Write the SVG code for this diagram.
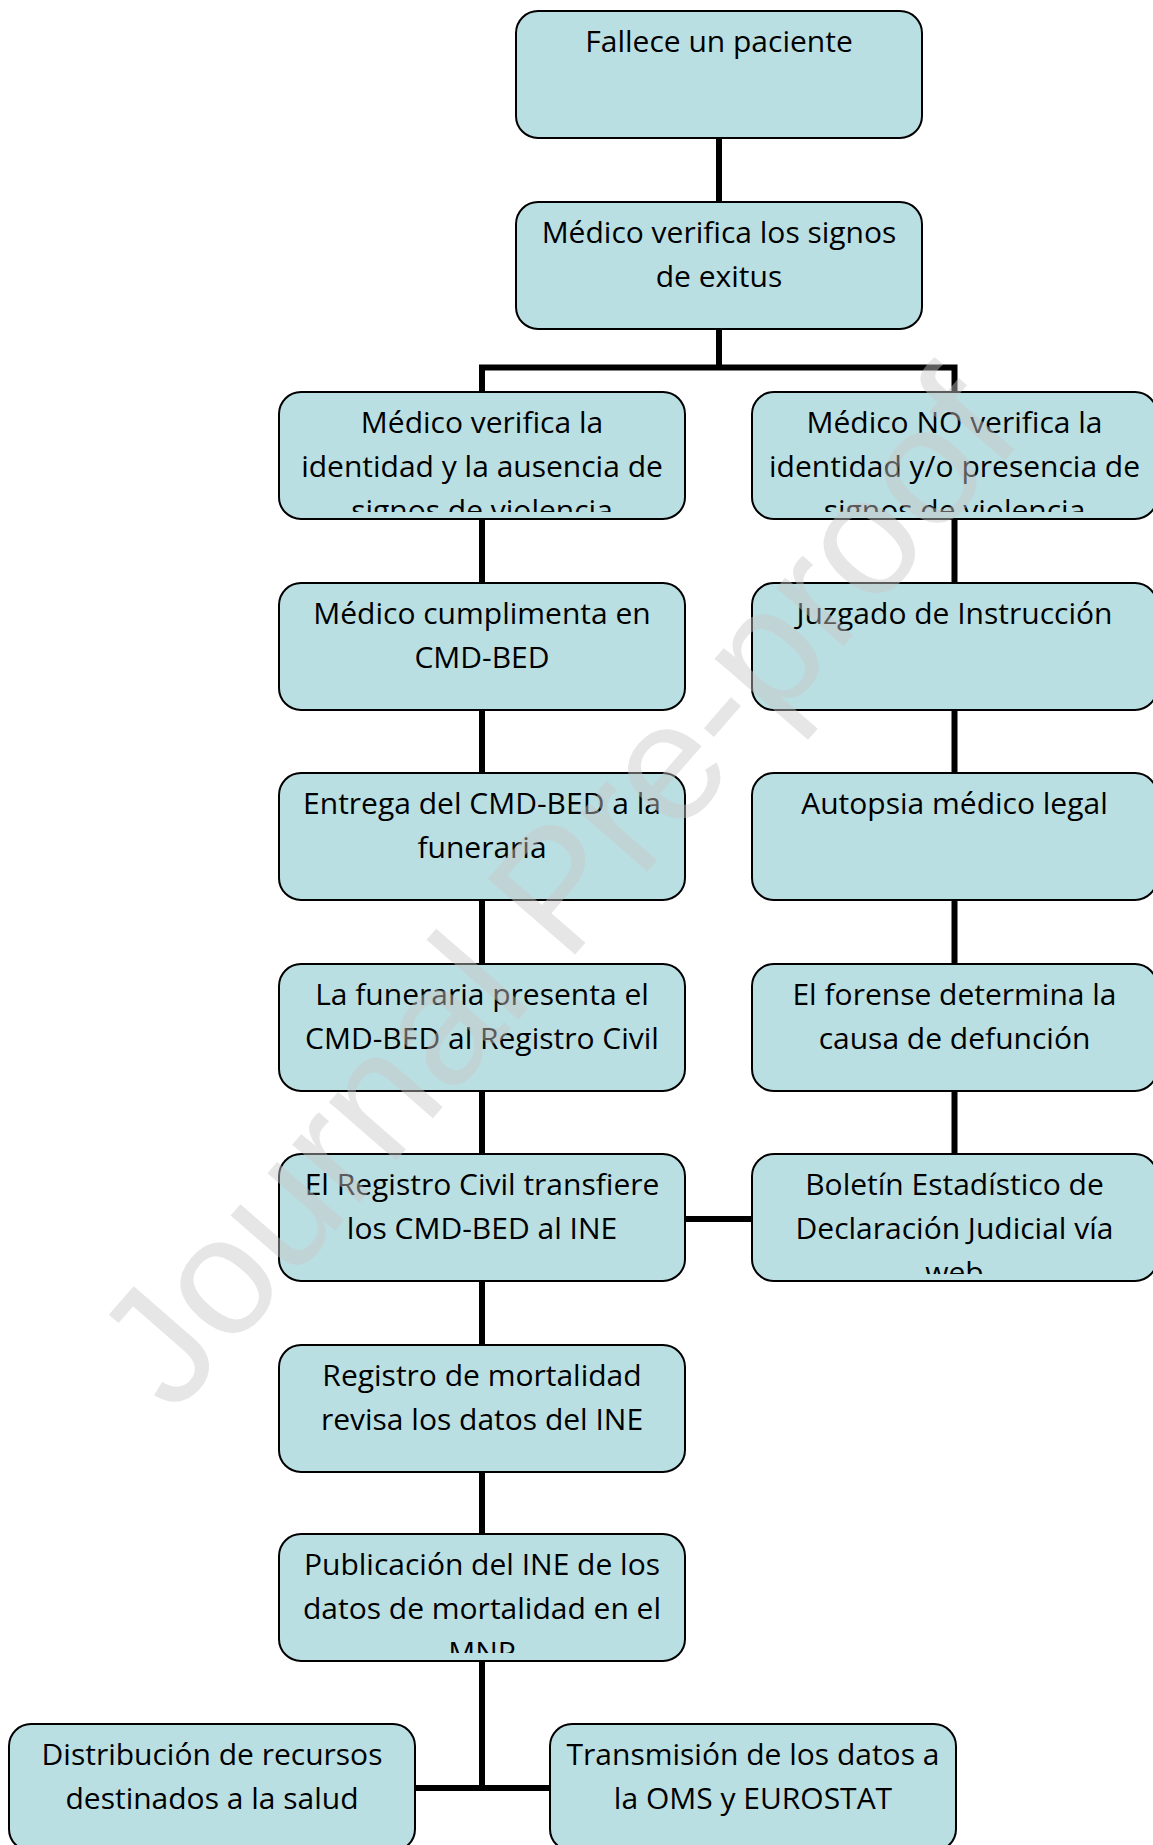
<svg xmlns="http://www.w3.org/2000/svg" width="1153" height="1845" viewBox="0 0 1153 1845">
<style>
.box{fill:#BADFE3;stroke:#000;stroke-width:2}
.t{font-family:"Open Sans","Liberation Sans",sans-serif;font-size:30px;fill:#000;text-anchor:middle}
.c{fill:none;stroke:#000;stroke-width:6;stroke-linejoin:miter}
.wm{font-family:"Liberation Sans",Arial,sans-serif;font-size:168px;fill:#c8c8c8;opacity:0.45}
</style>
<defs>
<clipPath id="cl3"><rect x="0" y="392" width="1153" height="120"/></clipPath>
<clipPath id="cl7"><rect x="740" y="1154" width="413" height="120"/></clipPath>
<clipPath id="cl9"><rect x="270" y="1534" width="430" height="119"/></clipPath>
</defs>
<rect width="1153" height="1845" fill="#fff"/>
<g id="connectors">
<path class="c" d="M719,138V202"/>
<path class="c" d="M719,328V367.5"/>
<path class="c" d="M482,392V367.5H954.5V392"/>
<path class="c" d="M482,518V583M482,709V773M482,900V964M482,1090V1154M482,1281V1345M482,1471V1535M482,1661V1788"/>
<path class="c" d="M954.5,518V583M954.5,709V773M954.5,900V964M954.5,1090V1154"/>
<path class="c" d="M685,1219H752"/>
<path class="c" d="M415,1788H550"/>
</g>
<g id="n1"><rect class="box" x="516" y="11" width="406" height="127" rx="22"/><text class="t" x="719" y="52">Fallece un paciente</text></g>
<g id="n2"><rect class="box" x="516" y="202" width="406" height="127" rx="22"/><text class="t" x="719" y="243">Médico verifica los signos</text><text class="t" x="719" y="287">de exitus</text></g>
<g id="n3l"><rect class="box" x="279" y="392" width="406" height="127" rx="22"/><g clip-path="url(#cl3)"><text class="t" x="482" y="433">Médico verifica la</text><text class="t" x="482" y="477">identidad y la ausencia de</text><text class="t" x="482" y="521">signos de violencia</text></g></g>
<g id="n3r"><rect class="box" x="752" y="392" width="405" height="127" rx="22"/><g clip-path="url(#cl3)"><text class="t" x="954.5" y="433">Médico NO verifica la</text><text class="t" x="954.5" y="477">identidad y/o presencia de</text><text class="t" x="954.5" y="521">signos de violencia</text></g></g>
<g id="n4l"><rect class="box" x="279" y="583" width="406" height="127" rx="22"/><text class="t" x="482" y="624">Médico cumplimenta en</text><text class="t" x="482" y="668">CMD-BED</text></g>
<g id="n4r"><rect class="box" x="752" y="583" width="405" height="127" rx="22"/><text class="t" x="954.5" y="624">Juzgado de Instrucción</text></g>
<g id="n5l"><rect class="box" x="279" y="773" width="406" height="127" rx="22"/><text class="t" x="482" y="814">Entrega del CMD-BED a la</text><text class="t" x="482" y="858">funeraria</text></g>
<g id="n5r"><rect class="box" x="752" y="773" width="405" height="127" rx="22"/><text class="t" x="954.5" y="814">Autopsia médico legal</text></g>
<g id="n6l"><rect class="box" x="279" y="964" width="406" height="127" rx="22"/><text class="t" x="482" y="1005">La funeraria presenta el</text><text class="t" x="482" y="1049">CMD-BED al Registro Civil</text></g>
<g id="n6r"><rect class="box" x="752" y="964" width="405" height="127" rx="22"/><text class="t" x="954.5" y="1005">El forense determina la</text><text class="t" x="954.5" y="1049">causa de defunción</text></g>
<g id="n7l"><rect class="box" x="279" y="1154" width="406" height="127" rx="22"/><text class="t" x="482" y="1195">El Registro Civil transfiere</text><text class="t" x="482" y="1239">los CMD-BED al INE</text></g>
<g id="n7r"><rect class="box" x="752" y="1154" width="405" height="127" rx="22"/><g clip-path="url(#cl7)"><text class="t" x="954.5" y="1195">Boletín Estadístico de</text><text class="t" x="954.5" y="1239">Declaración Judicial vía</text><text class="t" x="954.5" y="1283">web</text></g></g>
<g id="n8"><rect class="box" x="279" y="1345" width="406" height="127" rx="22"/><text class="t" x="482" y="1386">Registro de mortalidad</text><text class="t" x="482" y="1430">revisa los datos del INE</text></g>
<g id="n9"><rect class="box" x="279" y="1534" width="406" height="127" rx="22"/><g clip-path="url(#cl9)"><text class="t" x="482" y="1575">Publicación del INE de los</text><text class="t" x="482" y="1619">datos de mortalidad en el</text><text class="t" x="482" y="1663">MNP</text></g></g>
<g id="n10l"><rect class="box" x="9" y="1724" width="406" height="127" rx="22"/><text class="t" x="212" y="1765">Distribución de recursos</text><text class="t" x="212" y="1809">destinados a la salud</text></g>
<g id="n10r"><rect class="box" x="550" y="1724" width="406" height="127" rx="22"/><text class="t" x="753" y="1765">Transmisión de los datos a</text><text class="t" x="753" y="1809">la OMS y EUROSTAT</text></g>
<g id="watermark"><text class="wm" transform="translate(174,1416) rotate(-49)">Journal Pre-proof</text></g>
</svg>
